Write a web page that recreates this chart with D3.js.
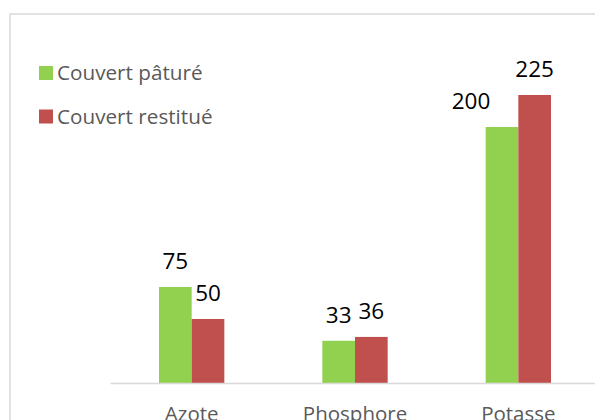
<!DOCTYPE html>
<html><head><meta charset="utf-8">
<script src="https://cdn.jsdelivr.net/npm/d3@7"></script>
<style>html,body{margin:0;padding:0;background:#fff;}svg{display:block;}</style>
</head><body>
<script>
const categories = ["Azote", "Phosphore", "Potasse"];
const seriesNames = ["Couvert pâturé", "Couvert restitué"];
const paturé = [75, 33, 200];
const restitué = [50, 36, 225];
const colors = ["#92D050", "#C0504D"];

const W = 595, H = 420;
const svg = d3.select("body").append("svg").attr("width", W).attr("height", H);
const font = "'Open Sans', sans-serif";

// outer chart border (cropped)
svg.append("rect").attr("x", 10).attr("y", 14).attr("width", 700).attr("height", 600)
  .attr("fill", "none").attr("stroke", "#d9d9d9").attr("stroke-width", 1.5);

const x = d3.scaleBand().domain(categories).range([110, 600]).paddingInner(0.6).paddingOuter(0.3);
const x1 = d3.scaleBand().domain(seriesNames).range([0, x.bandwidth()]);
const y = d3.scaleLinear().domain([0, 250]).range([383, 383 - 250 * 1.28]);

const series = [paturé, restitué];
const data = [];
categories.forEach((c, i) => seriesNames.forEach((s, j) => data.push({c, s, j, v: series[j][i]})));

svg.selectAll("rect.bar").data(data).enter().append("rect").attr("class", "bar")
  .attr("x", d => x(d.c) + x1(d.s)).attr("width", x1.bandwidth())
  .attr("y", d => y(d.v)).attr("height", d => y(0) - y(d.v))
  .attr("fill", d => colors[d.j]);

// x axis
const xAxis = svg.append("g").attr("transform", `translate(0,${y(0)})`)
  .call(d3.axisBottom(x).tickSize(0).tickPadding(23));
xAxis.select(".domain").attr("stroke", "#d9d9d9").attr("stroke-width", 1.5);
xAxis.selectAll("text").attr("font-family", font).attr("font-size", 20.5).attr("fill", "#595959");

// data labels
svg.selectAll("text.lbl").data(data).enter().append("text").attr("class", "lbl")
  .attr("x", d => x(d.c) + x1(d.s) + x1.bandwidth() / 2 + ((d.c === "Potasse" && d.j === 0) ? -31 : 0))
  .attr("y", d => y(d.v) - 18)
  .attr("text-anchor", "middle").attr("font-family", font).attr("font-size", 22.5).attr("fill", "#000")
  .text(d => d.v);

// legend
const lg = svg.append("g");
seriesNames.forEach((s, i) => {
  const yy = 80 + i * 43.5;
  lg.append("rect").attr("x", 39).attr("y", yy - 14).attr("width", 14).attr("height", 14).attr("fill", colors[i]);
  lg.append("text").attr("x", 57).attr("y", yy).attr("font-family", font).attr("font-size", 20.7)
    .attr("fill", "#595959").text(s);
});
</script>
</body></html>
